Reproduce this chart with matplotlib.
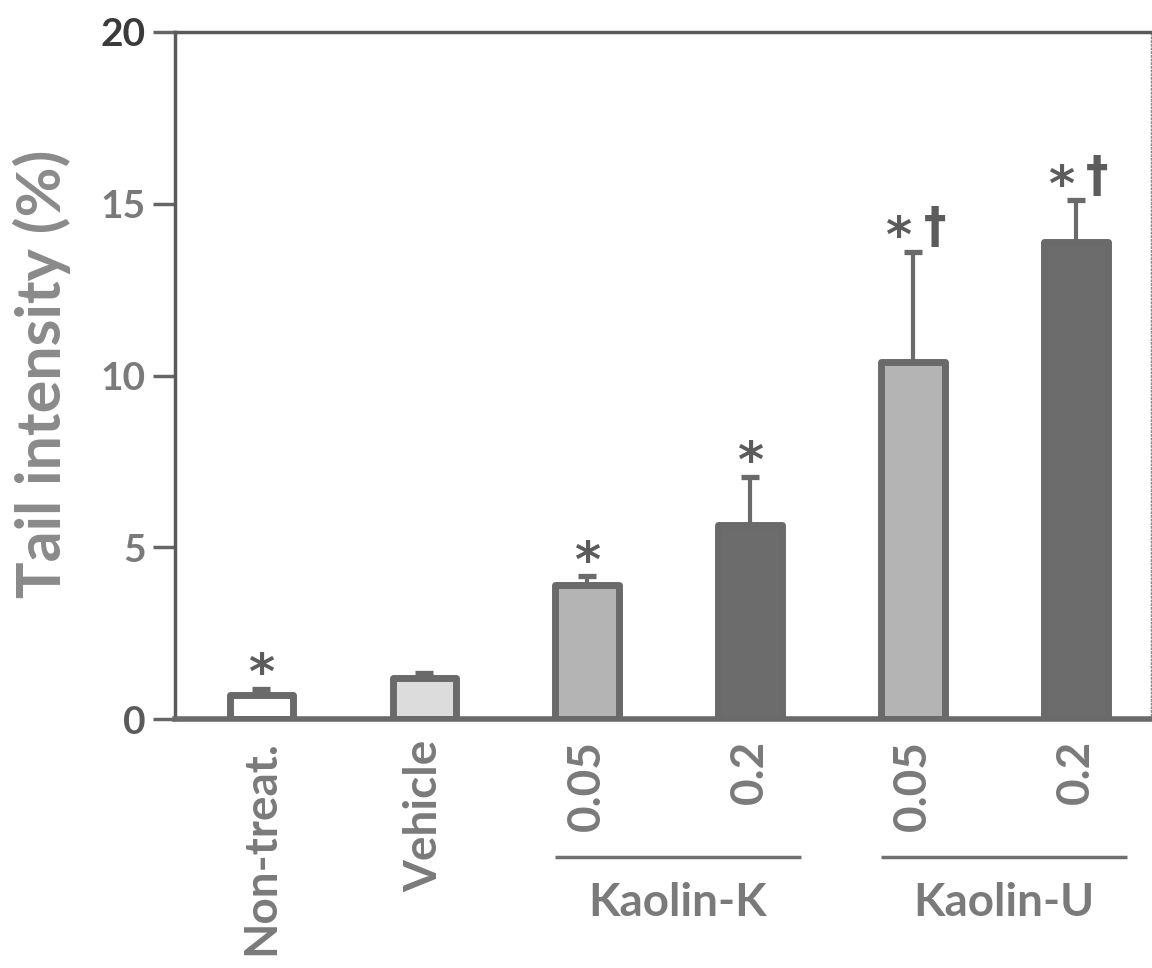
import matplotlib
matplotlib.use("Agg")
import matplotlib.pyplot as plt
from matplotlib.transforms import blended_transform_factory

# ---- data ----
categories = ["Non-treat.", "Vehicle", "0.05", "0.2", "0.05", "0.2"]
means = [0.7, 1.2, 3.9, 5.65, 10.4, 13.9]
errors = [0.18, 0.15, 0.25, 1.4, 3.2, 1.2]
marks = ["*", "", "*", "*", "*†", "*†"]
groups = ["Kaolin-K", "Kaolin-U"]
group_members = [(2, 3), (4, 5)]
yticks = [0, 5, 10, 15, 20]

fills = ["#ffffff", "#dcdcdc", "#b4b4b4", "#6c6c6c", "#b4b4b4", "#6c6c6c"]
edge = "#6a6a6a"
txt = "#7a7a7a"

plt.rcParams['font.family'] = ['Lato', 'DejaVu Sans']

fig = plt.figure(figsize=(11.52, 9.68), dpi=100)
ax = fig.add_axes([175/1152, 1-719/968, (1151-175)/1152, (719-32)/968])

x = list(range(len(categories)))
ax.errorbar(x, means, yerr=[[0]*len(errors), errors], fmt='none',
            ecolor=edge, elinewidth=3.0, capsize=6.5, capthick=3.8, zorder=2)
bars = ax.bar(x, means, width=0.39, color=fills, edgecolor=edge,
              linewidth=5, zorder=3)
for b in bars:
    b.set_joinstyle('round')

mark_style = dict(ha='center', va='bottom', fontsize=36, color='#5c5c5c',
                  fontweight='bold', zorder=4, family=['DejaVu Sans'],
                  textcoords='offset points')
for xi, m, e, s in zip(x, means, errors, marks):
    if not s:
        continue
    anchor = (xi, m + e - 0.3)
    if "†" in s:
        ax.annotate("*", anchor, xytext=(-11, 0), **mark_style)
        ax.annotate("†", anchor, xytext=(15.5, 7), fontstretch='condensed',
                    **mark_style)
    else:
        ax.annotate(s, anchor, xytext=(0, 0), **mark_style)

ax.set_xlim(-0.53, 5.46)
ax.set_ylim(0, 20)
ax.set_yticks(yticks)
ax.set_yticklabels([str(t) for t in yticks], fontsize=28, color=txt,
                   fontweight='bold')
ax.get_yticklabels()[-1].set_color('#3a3a3a')
ax.get_yticklabels()[0].set_color('#5a5a5a')
ax.tick_params(axis='y', length=16, width=2.5, color='#666666', pad=5)
ax.set_xticks(x)
ax.set_xticklabels(categories, rotation=90, fontsize=33, color=txt,
                   fontweight='bold', va='top')
ax.tick_params(axis='x', length=0, pad=15)

for side in ['left', 'top']:
    ax.spines[side].set_linewidth(2.5)
    ax.spines[side].set_color('#5a5a5a')
ax.spines['bottom'].set_linewidth(4)
ax.spines['bottom'].set_color(edge)
ax.spines['bottom'].set_zorder(5)
ax.spines['right'].set_linewidth(1)
ax.spines['right'].set_linestyle(':')
ax.spines['right'].set_color('#888888')

trans = blended_transform_factory(ax.transData, ax.transAxes)
for name, (i0, i1) in zip(groups, group_members):
    x0, x1 = i0 - 0.2, i1 + 0.31
    ax.plot([x0, x1], [-0.2009, -0.2009], transform=trans, color='#707070',
            lw=2.5, clip_on=False, solid_capstyle='butt')
    ax.text((x0 + x1) / 2, -0.268, name, transform=trans, ha='center',
            va='center', fontsize=33, color=txt, fontweight='bold')

fig.text(42/1152, 1-374/968, "Tail intensity (%)", rotation=90, ha='center',
         va='center', fontsize=44, color='#8a8a8a', fontweight='bold')

fig.savefig("out.png", dpi=100, facecolor='white')
